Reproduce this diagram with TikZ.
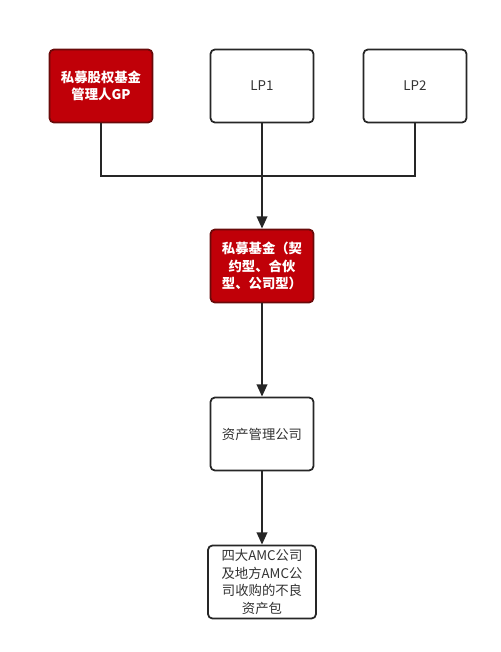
\documentclass[tikz,border=0pt]{standalone}
\usepackage{fontspec}
\newfontfamily\cjk{Noto Sans CJK SC}
\usetikzlibrary{arrows.meta}
\definecolor{boxred}{HTML}{C00008}
\definecolor{boxredline}{HTML}{6A0A0A}
\definecolor{lineclr}{HTML}{262626}
\begin{document}
\begin{tikzpicture}[x=0.02cm,y=-0.02cm,
  basebox/.style={draw=lineclr,line width=1pt,rounded corners=2.5pt,minimum width=2.06cm,minimum height=1.46cm,inner sep=1pt,align=center,font=\cjk\fontsize{7.6}{10}\selectfont},
  whitebox/.style={basebox,fill=white,text=black!80},
  redbox/.style={basebox,fill=boxred,draw=boxredline,text=white,font=\cjk\bfseries\fontsize{7.6}{10}\selectfont},
  conn/.style={draw=lineclr,line width=1.2pt},
  arr/.style={conn,-{Triangle[length=7pt,width=6pt]}}]
\useasboundingbox (0,0) rectangle (500,652);
\node[redbox] (gp) at (101,86) {私募股权基金\\管理人GP};
\node[whitebox] (lp1) at (262,86) {LP1};
\node[whitebox] (lp2) at (415,86) {LP2};
\node[redbox] (fund) at (262,266) {私募基金（契\\约型、合伙\\型、公司型）};
\node[whitebox] (amc) at (262,434) {资产管理公司};
\node[whitebox,minimum width=2.16cm] (npl) at (262,582) {四大AMC公司\\及地方AMC公\\司收购的不良\\资产包};
\coordinate (j) at (262,176);
\draw[conn] (gp.south) |- (lp2.south |- j) -- (lp2.south);
\draw[conn] (lp1.south) -- (j);
\draw[arr] (j) -- (fund.north);
\draw[arr] (fund.south) -- (amc.north);
\draw[arr] (amc.south) -- (npl.north);
\end{tikzpicture}
\end{document}
